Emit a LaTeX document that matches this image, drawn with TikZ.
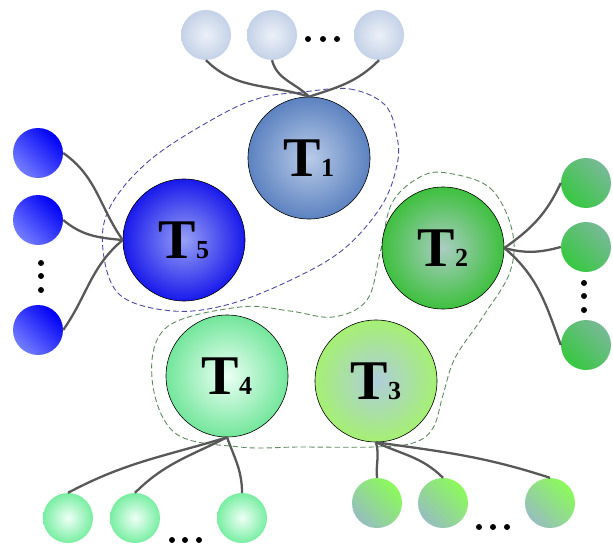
\documentclass[tikz,border=0pt]{standalone}
\usepackage{fontspec}
\setmainfont{Liberation Serif}
\definecolor{linkgray}{RGB}{88,88,88}
\definecolor{bluedash}{RGB}{75,75,165}
\definecolor{greendash}{RGB}{95,140,95}
\definecolor{tOneIn}{RGB}{185,203,232}
\definecolor{tOneOut}{RGB}{92,130,192}
\definecolor{tFiveIn}{RGB}{150,160,245}
\definecolor{tFiveOut}{RGB}{25,25,235}
\definecolor{tTwoIn}{RGB}{170,205,195}
\definecolor{tTwoOut}{RGB}{62,192,62}
\definecolor{tThreeIn}{RGB}{175,205,220}
\definecolor{tThreeOut}{RGB}{165,240,115}
\definecolor{tFourIn}{RGB}{235,255,245}
\definecolor{tFourOut}{RGB}{115,230,155}
\definecolor{lfTopIn}{RGB}{236,241,248}
\definecolor{lfTopOut}{RGB}{196,209,231}
\definecolor{lfBlueA}{RGB}{0,0,245}
\definecolor{lfBlueB}{RGB}{115,125,255}
\definecolor{lfGreenA}{RGB}{120,185,150}
\definecolor{lfGreenB}{RGB}{55,200,65}
\definecolor{lfMintIn}{RGB}{238,255,246}
\definecolor{lfMintOut}{RGB}{120,238,162}
\definecolor{lfLimeA}{RGB}{140,250,90}
\definecolor{lfLimeB}{RGB}{150,190,190}
\newcommand{\tlab}[1]{\bfseries\fontsize{56}{56}\selectfont T\fontsize{26}{26}\selectfont #1}
\begin{document}
\begin{tikzpicture}[x=1pt,y=1pt,
  hub/.style={circle, draw=black, line width=0.6pt, minimum size=122pt, inner sep=0pt},
  leaf/.style={circle, minimum size=50pt, inner sep=0pt},
  link/.style={draw=linkgray, line width=2.3pt},
  group/.style={line width=0.9pt, dash pattern=on 5.5pt off 3pt}]
\useasboundingbox (0,0) rectangle (613,-546);

% group outlines
\draw[group, draw=bluedash] plot[smooth cycle, tension=0.6] coordinates {
  (303,-92) (350,-89) (385,-105) (397,-137) (397,-165) (382,-205) (345,-248)
  (295,-278) (230,-304) (173,-311) (120,-295) (103,-250) (110,-207) (150,-160)
  (215,-118) (260,-98)};
\draw[group, draw=greendash] plot[smooth cycle, tension=0.6] coordinates {
  (447,-173) (490,-188) (512,-230) (510,-272) (482,-318) (455,-358) (443,-395)
  (433,-428) (413,-443) (373,-447) (300,-447) (240,-447) (175,-433) (152,-378)
  (167,-327) (240,-307) (290,-311) (333,-317) (367,-300) (380,-253) (392,-203)
  (420,-177)};

% leaves
\node[leaf, inner color=lfTopIn, outer color=lfTopOut] (ta) at (206,-35) {};
\node[leaf, inner color=lfTopIn, outer color=lfTopOut] (tb) at (272,-35) {};
\node[leaf, inner color=lfTopIn, outer color=lfTopOut] (tc) at (379,-35) {};

\node[leaf, top color=lfBlueA, bottom color=lfBlueB, shading angle=-45] (la) at (38,-153) {};
\node[leaf, top color=lfBlueA, bottom color=lfBlueB, shading angle=-45] (lb) at (38,-220) {};
\node[leaf, top color=lfBlueA, bottom color=lfBlueB, shading angle=-45] (lc) at (38,-330) {};

\node[leaf, top color=lfGreenA, bottom color=lfGreenB, shading angle=-45] (ra) at (586,-183) {};
\node[leaf, top color=lfGreenA, bottom color=lfGreenB, shading angle=-45] (rb) at (586,-247) {};
\node[leaf, top color=lfGreenA, bottom color=lfGreenB, shading angle=-45] (rc) at (586,-345) {};

\node[leaf, inner color=lfMintIn, outer color=lfMintOut] (ba) at (68,-518) {};
\node[leaf, inner color=lfMintIn, outer color=lfMintOut] (bb) at (135,-518) {};
\node[leaf, inner color=lfMintIn, outer color=lfMintOut] (bc) at (242,-518) {};

\node[leaf, top color=lfLimeA, bottom color=lfLimeB, shading angle=-45] (ca) at (377,-503) {};
\node[leaf, top color=lfLimeA, bottom color=lfLimeB, shading angle=-45] (cb) at (443,-503) {};
\node[leaf, top color=lfLimeA, bottom color=lfLimeB, shading angle=-45] (cc) at (550,-503) {};

% hubs
\node[hub, inner color=tOneIn, outer color=tOneOut] (T1) at (309,-158) {\tlab{1}};
\node[hub, inner color=tFiveIn, outer color=tFiveOut] (T5) at (184,-240) {\tlab{5}};
\node[hub, inner color=tTwoIn, outer color=tTwoOut] (T2) at (443,-248) {\tlab{2}};
\node[hub, inner color=tThreeIn, outer color=tThreeOut] (T3) at (376,-381) {\tlab{3}};
\node[hub, inner color=tFourIn, outer color=tFourOut] (T4) at (227,-376) {\tlab{4}};

% links
\draw[link] (ta.south) to[out=-45, in=162] (T1.north);
\draw[link] (tb.south) to[out=-75, in=135] (T1.north);
\draw[link] (tc.south) to[out=-135, in=18] (T1.north);

\draw[link] (la.east) to[out=-35, in=125] (T5.west);
\draw[link] (lb.east) to[out=-40, in=175] (T5.west);
\draw[link] (lc.east) to[out=55, in=-140] (T5.west);

\draw[link] (T2.east) to[out=35, in=-115] (ra.west);
\draw[link] (T2.east) to[out=-15, in=-165] (rb.west);
\draw[link] (T2.east) to[out=-40, in=110] (rc.west);

\draw[link] (T4.south) to[out=197, in=28] (ba.north);
\draw[link] (T4.south) to[out=207, in=45] (bb.north);
\draw[link] (T4.south) to[out=-70, in=90] (bc.north);

\draw[link] (T3.south) to[out=-75, in=95] (ca.north);
\draw[link] (T3.south) to[out=-25, in=135] (cb.north);
\draw[link] (T3.south) to[out=-8, in=162] (cc.north);

% ellipsis dots
\foreach \x in {308,323,337} \fill (\x,-39) circle (3pt);
\foreach \y in {263,276,290} \fill (41,-\y) circle (3pt);
\foreach \y in {283,296,310} \fill (584,-\y) circle (3pt);
\foreach \x in {172,185,199} \fill (\x,-540) circle (3pt);
\foreach \x in {479,493,507} \fill (\x,-527) circle (3pt);
\end{tikzpicture}
\end{document}
